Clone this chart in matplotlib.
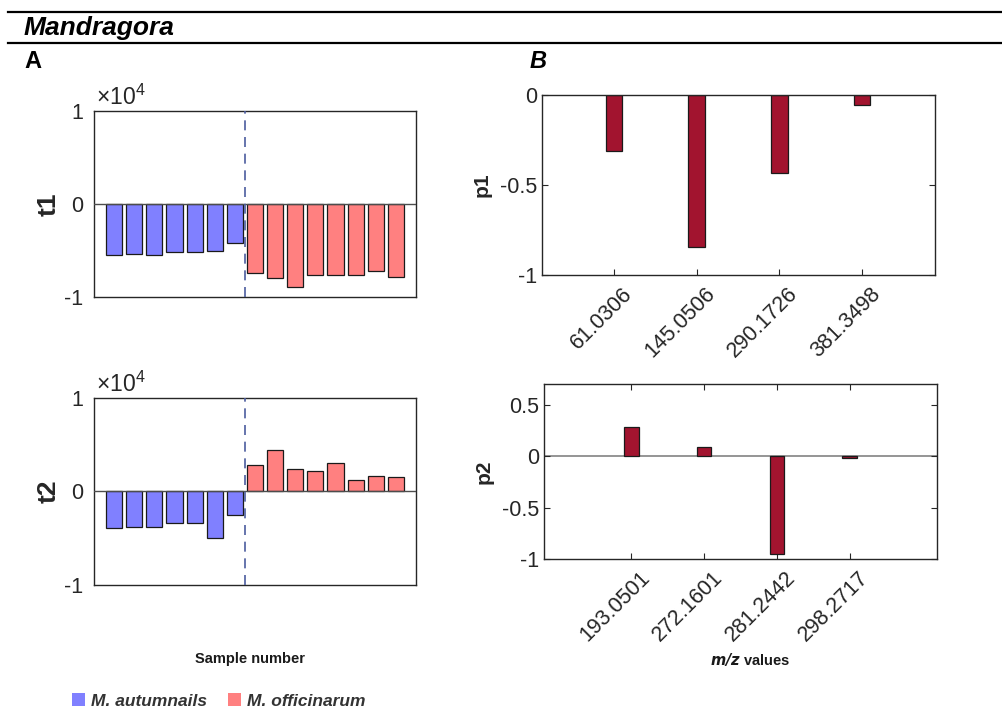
import matplotlib
matplotlib.use("Agg")
import matplotlib.pyplot as plt
from matplotlib.patches import Patch
from matplotlib.transforms import ScaledTranslation
import numpy as np

plt.rcParams['font.family'] = ['Liberation Sans', 'DejaVu Sans']
plt.rcParams['mathtext.fontset'] = 'custom'
plt.rcParams['mathtext.rm'] = 'Liberation Sans'
plt.rcParams['mathtext.it'] = 'Liberation Sans:italic'

# ---- data ----
t1_autumnalis = [-5500, -5400, -5500, -5200, -5200, -5100, -4200]
t1_officinarum = [-7400, -8000, -8900, -7600, -7600, -7600, -7200, -7800]
t2_autumnalis = [-3900, -3800, -3800, -3400, -3400, -5000, -2500]
t2_officinarum = [2800, 4400, 2400, 2200, 3000, 1250, 1700, 1500]

p1_mz = ['61.0306', '145.0506', '290.1726', '381.3498']
p1_vals = [-0.31, -0.845, -0.433, -0.054]
p2_mz = ['193.0501', '272.1601', '281.2442', '298.2717']
p2_vals = [0.28, 0.09, -0.95, -0.017]

legend_labels = ['M. autumnails', 'M. officinarum']
blue = '#8080ff'
red = '#ff8080'
dark_red = '#a2142f'
axcol = '#262626'

W, H = 1002, 717
fig = plt.figure(figsize=(W / 100, H / 100), dpi=100)


def rect(l, t, r, b):
    return [l / W, 1 - b / H, (r - l) / W, (b - t) / H]


def style_box(ax):
    for s in ax.spines.values():
        s.set_color(axcol)
        s.set_linewidth(1.0)
    ax.tick_params(colors=axcol, labelcolor=axcol, direction='in', labelsize=15.5,
                   top=True, right=True, length=4, width=0.8)


def score_panel(rectpx, a_vals, o_vals, label):
    ax = fig.add_axes(rect(*rectpx))
    n_a, n_o = len(a_vals), len(o_vals)
    xa = np.arange(1, n_a + 1)
    xo = np.arange(n_a + 1, n_a + n_o + 1)
    ax.bar(xa, a_vals, width=0.8, color=blue, edgecolor='#1a1a1a', linewidth=0.9, zorder=2)
    ax.bar(xo, o_vals, width=0.8, color=red, edgecolor='#1a1a1a', linewidth=0.9, zorder=2)
    ax.axhline(0, color='#4d4d4d', lw=1.0, zorder=3)
    ax.axvline(n_a + 0.5, color='#4b5c9e', lw=1.2, ls=(0, (6, 4)), zorder=4)
    ax.set_xlim(0, n_a + n_o + 1)
    ax.set_ylim(-1e4, 1e4)
    ax.set_xticks([])
    ax.set_yticks([-1e4, 0, 1e4])
    ax.set_yticklabels(['-1', '0', '1'])
    style_box(ax)
    ax.tick_params(axis='y', length=0, pad=8)
    ax.set_ylabel(label, fontsize=19, fontweight='bold', color=axcol, labelpad=2)
    ax.text(0.005, 1.005, r'$\times10^{4}$', transform=ax.transAxes, fontsize=16.5,
            color=axcol, ha='left', va='bottom')
    return ax


score_panel((94, 111, 416, 297), t1_autumnalis, t1_officinarum, 't1')
score_panel((94, 398, 416, 585), t2_autumnalis, t2_officinarum, 't2')

# ---- loadings ----
ax = fig.add_axes(rect(542, 95, 935, 275))
x = np.arange(1, len(p1_vals) + 1)
ax.bar(x, p1_vals, width=0.2, color=dark_red, edgecolor='#1a1a1a', linewidth=0.9, zorder=2)
ax.set_xlim(0.13, 4.88)
ax.set_ylim(-1, 0)
ax.set_yticks([-1, -0.5, 0])
ax.set_yticklabels(['-1', '-0.5', '0'])
ax.set_xticks(x)
ax.set_xticklabels(p1_mz, rotation=45, ha='right', rotation_mode='anchor')
style_box(ax)
ax.tick_params(axis='x', pad=6)
ax.set_ylabel('p1', fontsize=15, fontweight='bold', color=axcol, labelpad=6)

ax2 = fig.add_axes(rect(544, 384, 937, 559))
x = np.arange(1, len(p2_vals) + 1)
ax2.bar(x, p2_vals, width=0.2, color=dark_red, edgecolor='#1a1a1a', linewidth=0.9, zorder=2)
ax2.axhline(0, color='#8c8c8c', lw=1.3, zorder=1)
ax2.set_xlim(-0.2, 5.2)
ax2.set_ylim(-1, 0.7)
ax2.set_yticks([-1, -0.5, 0, 0.5])
ax2.set_yticklabels(['-1', '-0.5', '0', '0.5'])
ax2.set_xticks(x)
ax2.set_xticklabels(p2_mz, rotation=45, ha='right', rotation_mode='anchor')
style_box(ax2)
ax2.tick_params(axis='x', pad=6)
ax2.set_ylabel('p2', fontsize=15, fontweight='bold', color=axcol, labelpad=6)

# shift rotated labels slightly right like MATLAB
for a in (ax, ax2):
    for t in a.get_xticklabels():
        t.set_transform(t.get_transform() + ScaledTranslation(8 / 100, 0, fig.dpi_scale_trans))

# ---- figure annotations ----
fig.add_artist(plt.Line2D([8 / W, 1], [1 - 12 / H, 1 - 12 / H], color='black', lw=1.6))
fig.add_artist(plt.Line2D([8 / W, 1], [1 - 43 / H, 1 - 43 / H], color='black', lw=1.6))
fig.text(24 / W, 1 - 28 / H, 'Mandragora', fontsize=19, fontweight='bold', style='italic',
         va='center', ha='left', color='black')
fig.text(24 / W, 1 - 61 / H, 'A', fontsize=17, fontweight='bold', va='center', ha='left')
fig.text(530 / W, 1 - 61 / H, 'B', fontsize=17, fontweight='bold', style='italic',
         va='center', ha='left')

fig.text(250 / W, 1 - 659 / H, 'Sample number', fontsize=10.5, fontweight='bold',
         ha='center', va='center', color='#1a1a1a')
fig.text(750 / W, 1 - 660 / H, r'$\mathbfit{m/z}$ values', fontsize=10.5, fontweight='bold',
         ha='center', va='center', color='#1a1a1a')

handles = [Patch(facecolor=blue, edgecolor='none'), Patch(facecolor=red, edgecolor='none')]
leg = fig.legend(handles, legend_labels, loc='center left',
                 bbox_to_anchor=(56 / W, 1 - 701 / H), ncol=2, frameon=False,
                 handlelength=0.75, handleheight=0.75, handletextpad=0.35, columnspacing=1.2,
                 prop={'size': 12.5, 'weight': 'bold', 'style': 'italic'})
for t in leg.get_texts():
    t.set_color('#333333')

fig.savefig('out.png', dpi=100)
